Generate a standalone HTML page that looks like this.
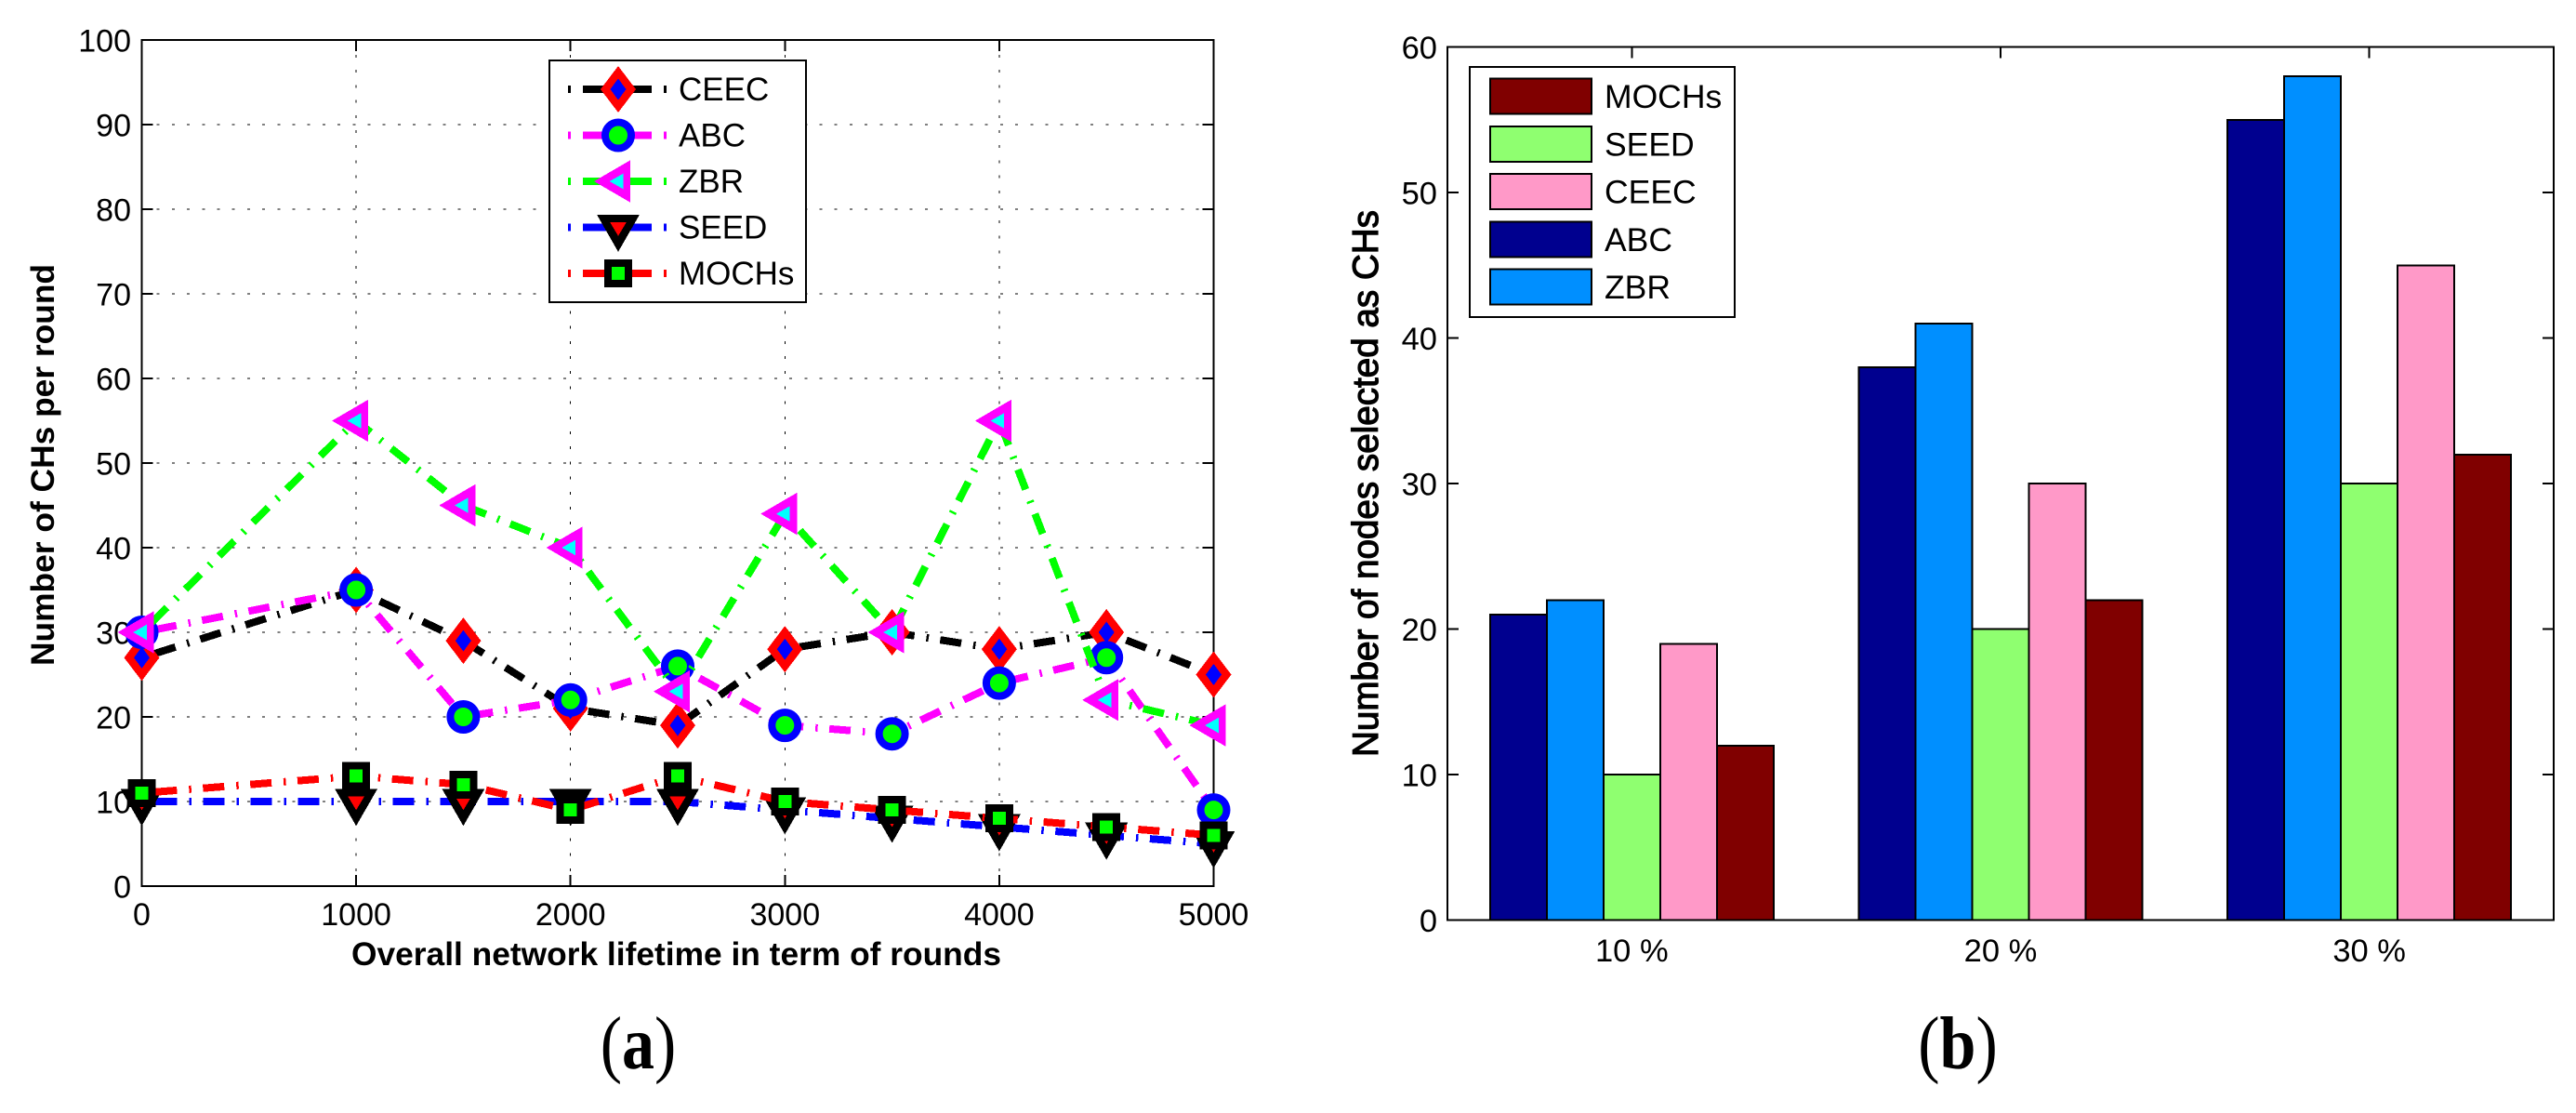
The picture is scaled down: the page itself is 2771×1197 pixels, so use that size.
<!DOCTYPE html>
<html lang="en">
<head>
<meta charset="utf-8">
<title>CH selection charts</title>
<style>
  html,body{margin:0;padding:0;background:#fff;width:2771px;height:1197px;overflow:hidden}
  svg{display:block}
  text{font-family:"Liberation Sans",Arial,sans-serif;fill:#000}
  .cap{font-family:"Liberation Serif","Times New Roman",serif;font-size:80px}
</style>
</head>
<body>
<svg id="fig" xmlns="http://www.w3.org/2000/svg" width="2771" height="1197" viewBox="0 0 2771 1197">
  <rect x="0" y="0" width="2771" height="1197" fill="#fff"/>
  <g id="chartA"></g>
  <g id="chartB"></g>
  <text x="727.5" y="1038" text-anchor="middle" font-size="35" font-weight="bold" textLength="699" lengthAdjust="spacingAndGlyphs">Overall network lifetime in term of rounds</text>
  <text transform="translate(58,500) rotate(-90)" text-anchor="middle" font-size="35" font-weight="bold" textLength="432" lengthAdjust="spacingAndGlyphs">Number of CHs per round</text>
  <text transform="translate(1482,520) rotate(-90)" text-anchor="middle" font-size="38.5" stroke="#000" stroke-width="1.2" textLength="588" lengthAdjust="spacingAndGlyphs">Number of nodes selected as CHs</text>
  <text class="cap" transform="translate(686.5,1149) scale(0.875,1)" x="0" y="0" text-anchor="middle">(<tspan font-weight="bold">a</tspan>)</text>
  <text class="cap" transform="translate(2106,1149) scale(0.875,1)" x="0" y="0" text-anchor="middle">(<tspan font-weight="bold">b</tspan>)</text>
</svg>
<script>
// ---------- Chart (a) data ----------
const lineRounds = [0, 1000, 1500, 2000, 2500, 3000, 3500, 4000, 4500, 5000];
const ceecCounts = [27, 35, 29, 21, 19, 28, 30, 28, 30, 25];
const abcCounts = [30, 35, 20, 22, 26, 19, 18, 24, 27, 9];
const zbrCounts = [30, 55, 45, 40, 23, 44, 30, 55, 22, 19];
const seedCounts = [10, 10, 10, 10, 10, 9, 8, 7, 6, 5];
const mochsCounts = [11, 13, 12, 9, 13, 10, 9, 8, 7, 6];
const lineXTicks = [0, 1000, 2000, 3000, 4000, 5000];
const lineYTicks = [0, 10, 20, 30, 40, 50, 60, 70, 80, 90, 100];
const lineSeriesNames = ['CEEC', 'ABC', 'ZBR', 'SEED', 'MOCHs'];

// ---------- Chart (b) data ----------
const barCategories = ['10 %', '20 %', '30 %'];
const barAbc = [21, 38, 55];
const barZbr = [22, 41, 58];
const barSeed = [10, 20, 30];
const barCeec = [19, 30, 45];
const barMochs = [12, 22, 32];
const barYTicks = [0, 10, 20, 30, 40, 50, 60];
const barSeriesNames = ['ABC', 'ZBR', 'SEED', 'CEEC', 'MOCHs'];
const barLegendOrder = ['MOCHs', 'SEED', 'CEEC', 'ABC', 'ZBR'];

// ---------- Appearance ----------
const lineValues = {CEEC: ceecCounts, ABC: abcCounts, ZBR: zbrCounts, SEED: seedCounts, MOCHs: mochsCounts};
const barValues = {ABC: barAbc, ZBR: barZbr, SEED: barSeed, CEEC: barCeec, MOCHs: barMochs};
const lineLook = {
  CEEC: {line: '#000000', kind: 'diamond', edge: '#ff0000', fill: '#0000ff'},
  ABC: {line: '#ff00ff', kind: 'circle', edge: '#0000ff', fill: '#00ff00'},
  ZBR: {line: '#00ff00', kind: 'left', edge: '#ff00ff', fill: '#00ffff'},
  SEED: {line: '#0000ff', kind: 'down', edge: '#000000', fill: '#ff0000'},
  MOCHs: {line: '#ff0000', kind: 'square', edge: '#000000', fill: '#00ff00'}
};
const barLook = {ABC: '#00008f', ZBR: '#008fff', SEED: '#8fff70', CEEC: '#ff99c8', MOCHs: '#800000'};

const NS = 'http://www.w3.org/2000/svg';
function make(tag, attrs, parent) {
  const node = document.createElementNS(NS, tag);
  for (const k in attrs) node.setAttribute(k, attrs[k]);
  parent.appendChild(node);
  return node;
}

// ---------- Axis functions ----------
const A = {l: 152.5, r: 1305.5, t: 43, b: 953};
const B = {l: 1557, r: 2747, t: 50.7, b: 989.7};
function xA(v) { return A.l + (v - 0) / 5000 * (A.r - A.l); }
function yA(v) { return A.b - v / 100 * (A.b - A.t); }
function xB(v) { return B.l + (v - 0.5) / 3 * (B.r - B.l); }
function yB(v) { return B.b - v / 60 * (B.b - B.t); }

function tickLine(parent, x1, y1, x2, y2, name) {
  const t = make('line', {x1: x1, y1: y1, x2: x2, y2: y2, stroke: '#000', 'stroke-width': 2, 'shape-rendering': 'crispEdges'}, parent);
  
  
}
function label(parent, x, y, anchor, size, str, name) {
  const t = make('text', {x: x, y: y, 'text-anchor': anchor, 'font-size': size}, parent);
  t.textContent = str;
  
  
}
function frame(parent, box, name) {
  const f = make('rect', {x: box.l, y: box.t, width: box.r - box.l, height: box.b - box.t, fill: 'none', stroke: '#000', 'stroke-width': 2, 'shape-rendering': 'crispEdges'}, parent);
  
  
}

function poly(parent, pts, fill) {
  return make('polygon', {points: pts.map(p => p.join(',')).join(' '), fill: fill, 'shape-rendering': 'crispEdges'}, parent);
}
function drawMarker(parent, look, cx, cy, name) {
  const g = make('g', {}, parent);
  
  
  if (look.kind === 'diamond') {
    poly(g, [[cx, cy - 25], [cx + 19, cy], [cx, cy + 25], [cx - 19, cy]], look.edge);
    poly(g, [[cx, cy - 11.5], [cx + 8.5, cy], [cx, cy + 11.5], [cx - 8.5, cy]], look.fill);
  } else if (look.kind === 'circle') {
    make('circle', {cx: cx, cy: cy, r: 14, fill: look.fill, stroke: look.edge, 'stroke-width': 8}, g);
  } else if (look.kind === 'left') {
    poly(g, [[cx - 26, cy], [cx + 13, cy - 22.7], [cx + 13, cy + 22.7]], look.edge);
    poly(g, [[cx - 9.3, cy], [cx + 5.3, cy - 8.3], [cx + 5.3, cy + 8.3]], look.fill);
  } else if (look.kind === 'down') {
    poly(g, [[cx - 23, cy - 13.7], [cx + 23, cy - 13.7], [cx, cy + 26.3]], look.edge);
    poly(g, [[cx - 9, cy - 5.7], [cx + 9, cy - 5.7], [cx, cy + 9.3]], look.fill);
  } else {
    poly(g, [[cx - 15, cy - 15], [cx + 15, cy - 15], [cx + 15, cy + 15], [cx - 15, cy + 15]], look.edge);
    poly(g, [[cx - 7, cy - 7], [cx + 7, cy - 7], [cx + 7, cy + 7], [cx - 7, cy + 7]], look.fill);
  }
}

// ---------- Draw chart (a) ----------
const chartA = document.getElementById('chartA');
const gridA = make('g', {stroke: '#000', 'stroke-width': 1, 'stroke-dasharray': '3 13.2', 'shape-rendering': 'crispEdges'}, chartA);


lineYTicks.forEach(function (v) {
  if (v === 0 || v === 100) return;
  const g1 = make('line', {x1: A.l, y1: yA(v), x2: A.r, y2: yA(v)}, gridA);
  
  
});
lineXTicks.forEach(function (v) {
  if (v === 0 || v === 5000) return;
  const g2 = make('line', {x1: xA(v), y1: A.b, x2: xA(v), y2: A.t}, gridA);
  
  
});
lineYTicks.forEach(function (v) {
  tickLine(chartA, A.l, yA(v), A.l + 12, yA(v), 'y-tick');
  tickLine(chartA, A.r - 12, yA(v), A.r, yA(v), 'y-tick-right');
  label(chartA, 141, yA(v) + 12.5, 'end', 34, String(v), 'y-tick-label');
});
lineXTicks.forEach(function (v) {
  tickLine(chartA, xA(v), A.b, xA(v), A.b - 12, 'x-tick');
  tickLine(chartA, xA(v), A.t, xA(v), A.t + 12, 'x-tick-top');
  label(chartA, xA(v), 995, 'middle', 34, String(v), 'x-tick-label');
});
frame(chartA, A, 'plot-frame-a');

lineSeriesNames.forEach(function (name) {
  const look = lineLook[name];
  const values = lineValues[name];
  const group = make('g', {}, chartA);
  
  
  const pts = lineRounds.map(function (r, i) { return xA(r) + ',' + yA(values[i]); }).join(' ');
  const pl = make('polyline', {points: pts, fill: 'none', stroke: look.line, 'stroke-width': 8, 'stroke-dasharray': '23 13 2.5 12.5', 'stroke-dashoffset': 36, 'stroke-linejoin': 'miter', 'shape-rendering': 'crispEdges'}, group);
  
  
  lineRounds.forEach(function (r, i) {
    drawMarker(group, look, xA(r), yA(values[i]), 'point-' + name.toLowerCase());
  });
});

// legend (a)
const legA = make('g', {}, chartA);


const legAbox = make('rect', {x: 591, y: 65, width: 276, height: 260, fill: '#fff', stroke: '#000', 'stroke-width': 2, 'shape-rendering': 'crispEdges'}, legA);


lineSeriesNames.forEach(function (name, i) {
  const cy = 96 + i * 49.5;
  const look = lineLook[name];
  const entry = make('g', {}, legA);
  
  
  const sw = make('line', {x1: 611, y1: cy, x2: 717, y2: cy, stroke: look.line, 'stroke-width': 8, 'stroke-dasharray': '3 13 74 13 3', 'shape-rendering': 'crispEdges'}, entry);
  
  
  drawMarker(entry, look, 665, cy, 'legend-marker');
  label(entry, 730, cy + 12, 'start', 35, name, 'legend-label');
});

// ---------- Draw chart (b) ----------
const chartB = document.getElementById('chartB');
const barUnits = 0.1538;
barSeriesNames.forEach(function (name, s) {
  const group = make('g', {}, chartB);
  
  
  barCategories.forEach(function (cat, c) {
    const left = xB(c + 1 + (s - 2.5) * barUnits);
    const right = xB(c + 1 + (s - 1.5) * barUnits);
    const top = yB(barValues[name][c]);
    const bar = make('rect', {x: left, y: top, width: right - left, height: yB(0) - top, fill: barLook[name], stroke: '#000', 'stroke-width': 2, 'shape-rendering': 'crispEdges'}, group);
    
    
  });
});
barYTicks.forEach(function (v) {
  tickLine(chartB, B.l, yB(v), B.l + 12, yB(v), 'y-tick');
  tickLine(chartB, B.r - 12, yB(v), B.r, yB(v), 'y-tick-right');
  label(chartB, 1546, yB(v) + 12.5, 'end', 34.5, String(v), 'y-tick-label');
});
barCategories.forEach(function (cat, c) {
  tickLine(chartB, xB(c + 1), B.t, xB(c + 1), B.t + 12, 'x-tick-top');
  label(chartB, xB(c + 1), 1034, 'middle', 34.5, cat, 'x-tick-label');
});
frame(chartB, B, 'plot-frame-b');

// legend (b)
const legB = make('g', {}, chartB);


const legBbox = make('rect', {x: 1581, y: 72, width: 285, height: 269, fill: '#fff', stroke: '#000', 'stroke-width': 2, 'shape-rendering': 'crispEdges'}, legB);


barLegendOrder.forEach(function (name, i) {
  const cy = 103.7 + i * 51.2;
  const entry = make('g', {}, legB);
  
  
  const sw = make('rect', {x: 1603, y: cy - 19, width: 109, height: 38, fill: barLook[name], stroke: '#000', 'stroke-width': 2, 'shape-rendering': 'crispEdges'}, entry);
  
  
  label(entry, 1726, cy + 12.5, 'start', 35.5, name, 'legend-label');
});
</script>
</body>
</html>
